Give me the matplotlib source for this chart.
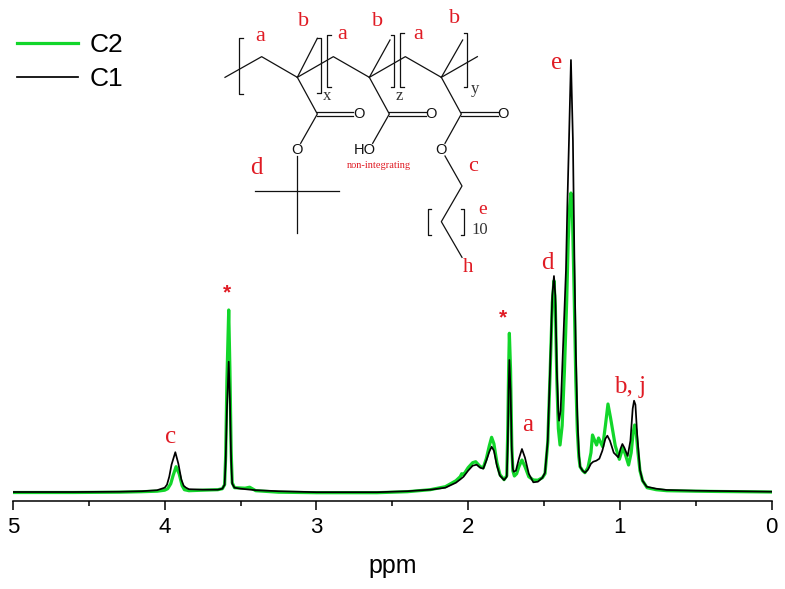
import matplotlib
matplotlib.use("Agg")
import matplotlib.pyplot as plt

SANS = "Liberation Sans"
SERIF = "Liberation Serif"
RED = "#e01b24"

ppm_c1 = [5.0, 4.6, 4.3, 4.15, 4.05, 4.0, 3.985, 3.97, 3.955, 3.93, 3.91, 3.89, 3.875, 3.86, 3.84, 3.75,
          3.65, 3.62, 3.605, 3.598, 3.59, 3.578, 3.57, 3.562, 3.555, 3.54, 3.5, 3.4, 3.25, 3.0, 2.6, 2.4,
          2.25, 2.15, 2.08, 2.05, 2.03, 2.0, 1.97, 1.944, 1.92, 1.9, 1.88, 1.86, 1.845, 1.83, 1.81, 1.79,
          1.763, 1.745, 1.738, 1.733, 1.728, 1.72, 1.712, 1.705, 1.7, 1.685, 1.665, 1.645, 1.625, 1.6,
          1.57, 1.54, 1.51, 1.493, 1.475, 1.46, 1.445, 1.434, 1.425, 1.415, 1.405, 1.4, 1.39, 1.375, 1.355,
          1.345, 1.335, 1.322, 1.309, 1.3, 1.29, 1.28, 1.27, 1.262, 1.245, 1.23, 1.21, 1.19, 1.175, 1.155,
          1.135, 1.115, 1.095, 1.082, 1.065, 1.04, 1.01, 0.995, 0.983, 0.97, 0.948, 0.93, 0.915, 0.906,
          0.897, 0.885, 0.867, 0.85, 0.823, 0.76, 0.69, 0.5, 0.34, 0.0]
int_c1 = [8.7, 8.7, 9, 9.5, 10.5, 13, 16, 24, 36, 48.5, 37, 21, 15, 13, 11.5, 11,
          11, 12, 16, 40, 90, 139, 100, 40, 17, 13, 12, 10.5, 9.5, 8.5, 8.5, 9.5,
          11, 13, 18, 21.5, 24, 30, 35, 36, 33, 32, 40, 49, 54, 50, 35, 25,
          20.7, 24, 60, 110, 140.7, 110, 50, 32, 29, 30, 42, 51.7, 43, 27,
          18.4, 19, 23, 28, 60, 130, 205, 224.7, 205, 130, 88, 80, 90, 150, 230,
          300, 360, 440.7, 360, 250, 150, 85, 48, 34, 30, 28, 31, 37, 39, 40,
          42, 50, 62, 65, 60, 48, 43.4, 52, 56.7, 53, 44.7, 60, 92, 100,
          96, 65, 30.7, 20, 14, 12, 10.7, 10, 9.7, 9]

ppm_c2 = [5.0, 4.6, 4.3, 4.15, 4.05, 4.0, 3.98, 3.96, 3.945, 3.925, 3.905, 3.885, 3.87, 3.84, 3.75,
          3.65, 3.62, 3.605, 3.598, 3.59, 3.578, 3.57, 3.562, 3.555, 3.54, 3.47, 3.44, 3.4, 3.25, 3.0, 2.6, 2.4,
          2.25, 2.15, 2.08, 2.052, 2.042, 2.03, 2.0, 1.97, 1.95, 1.92, 1.9, 1.88, 1.86, 1.845, 1.83, 1.81, 1.79,
          1.763, 1.745, 1.738, 1.733, 1.728, 1.72, 1.712, 1.705, 1.695, 1.68, 1.665, 1.645, 1.625, 1.6,
          1.57, 1.54, 1.51, 1.493, 1.475, 1.46, 1.445, 1.434, 1.425, 1.415, 1.405, 1.394, 1.38, 1.365, 1.35,
          1.34, 1.33, 1.322, 1.312, 1.3, 1.29, 1.28, 1.27, 1.262, 1.245, 1.23, 1.21, 1.19, 1.18, 1.165, 1.153,
          1.14, 1.113, 1.095, 1.078, 1.06, 1.03, 1.003, 0.99, 0.98, 0.965, 0.942, 0.925, 0.912, 0.902,
          0.893, 0.88, 0.867, 0.85, 0.82, 0.76, 0.69, 0.5, 0.34, 0.0]
int_c2 = [8.2, 8.2, 8.5, 9, 9.5, 10.5, 12, 17, 25, 34, 27, 15, 11, 10, 10.5,
          11, 12, 16, 45, 120, 190.7, 130, 50, 18, 13, 12.5, 13.5, 10, 8.5, 8, 8, 9,
          11, 14, 20, 24, 27, 26, 33, 38, 39, 34, 33, 42, 55, 63.4, 57, 38, 26,
          21, 25, 75, 130, 167.4, 130, 55, 30, 24.7, 27, 34, 40.7, 34, 24,
          20.7, 20.5, 23, 27, 58, 125, 198, 220, 195, 120, 72, 55.7, 75, 130, 200,
          260, 295, 307.7, 285, 200, 120, 70, 44, 34, 30, 28, 33, 48, 65.7, 60, 55.7,
          62.7, 54, 75, 96.7, 82, 55, 41.4, 48, 53, 47, 35.7, 48, 68, 75.7,
          70, 48, 30, 20, 13, 11, 10, 9.5, 9.2, 8.7]

x_ticks = [5, 4, 3, 2, 1, 0]
x_minor_ticks = [4.5, 3.5, 2.5, 1.5, 0.5]

# chemical structure, positions in 3x pixels of the picture
chain = [(675, 232), (785, 170), (892, 232), (1000, 170), (1108, 232), (1216, 170), (1324, 232), (1432, 170)]
bonds = [
    [(892, 232), (952, 115)], [(1108, 232), (1170, 120)], [(1324, 232), (1388, 120)],
    [(892, 232), (952, 342), (902, 430)], [(1108, 232), (1168, 342), (1118, 430)],
    [(1324, 232), (1384, 342), (1335, 430)],
    [(952, 337), (1060, 337)], [(952, 347), (1060, 347)],
    [(1168, 337), (1278, 337)], [(1168, 347), (1278, 347)],
    [(1384, 337), (1494, 337)], [(1384, 347), (1494, 347)],
    [(890, 468), (890, 698)], [(765, 573), (1018, 573)],
    [(1335, 468), (1386, 558), (1324, 665), (1386, 772)],
]
brackets = [
    [(730, 115), (718, 115), (718, 283), (730, 283)],
    [(950, 113), (963, 113), (963, 280), (950, 280)],
    [(992, 105), (980, 105), (980, 262), (992, 262)],
    [(1172, 105), (1183, 105), (1183, 262), (1172, 262)],
    [(1212, 98), (1200, 98), (1200, 262), (1212, 262)],
    [(1392, 98), (1402, 98), (1402, 262), (1392, 262)],
    [(1294, 628), (1284, 628), (1284, 705), (1294, 705)],
    [(1382, 628), (1391, 628), (1391, 705), (1382, 705)],
]
atoms = [("O", 1078, 342), ("O", 1294, 342), ("O", 1510, 342), ("O", 890, 451), ("HO", 1093, 451), ("O", 1323, 451)]
black_serif = [("x", 981, 288, 12), ("z", 1197, 288, 12), ("y", 1425, 268, 12), ("10", 1440, 690, 12)]
red_structure = [("a", 780, 110, 16), ("b", 910, 65, 16), ("a", 1027, 103, 16), ("b", 1132, 65, 16),
                 ("a", 1254, 103, 16), ("b", 1365, 55, 16), ("d", 770, 503, 18), ("c", 1420, 500, 16),
                 ("e", 1449, 628, 14), ("h", 1403, 803, 15), ("non-integrating", 1136, 498, 7.5)]
# peak labels in pixels of the picture
peak_labels = [("c", 171, 437, 18), ("a", 528, 425, 18), ("d", 547, 263, 18), ("e", 557, 63, 18),
               ("b, j", 630, 387, 18)]
star_labels = [("*", 227, 293), ("*", 503, 318)]

fig = plt.figure(figsize=(7.85, 5.89), dpi=100)
W, H = 785, 589
ax = fig.add_axes([13 / W, 1 - 500.7 / H, (771.5 - 13) / W, 500.7 / H])
ax.patch.set_alpha(0)

ax.plot(ppm_c2, int_c2, color="#12d62a", lw=2.3, label="C2", solid_joinstyle="round")
ax.plot(ppm_c1, int_c1, color="black", lw=1.25, label="C1", solid_joinstyle="round")

ax.set_xlim(5, 0)
ax.set_ylim(0, 500.7)
ax.set_xticks(x_ticks)
ax.set_xticks(x_minor_ticks, minor=True)
ax.set_yticks([])
ax.tick_params(axis="x", which="major", length=6.5, width=1.1, labelsize=16, pad=5)
ax.tick_params(axis="x", which="minor", length=3.5, width=1.1)
for label in ax.get_xticklabels():
    label.set_fontfamily(SANS)
for side in ["top", "left", "right"]:
    ax.spines[side].set_visible(False)
ax.spines["bottom"].set_linewidth(1.1)
ax.set_xlabel("ppm", fontsize=18, family=SANS, labelpad=12)

handles, labels = ax.get_legend_handles_labels()
ax.legend(handles, labels, loc="upper left", bbox_to_anchor=(17 / W, 1 - 33 / H), bbox_transform=fig.transFigure,
          frameon=False, prop={"family": SANS, "size": 19}, handlelength=2.3, handletextpad=0.45,
          labelspacing=0.38, borderaxespad=0, borderpad=0)

struct = fig.add_axes([0, 0, 1, 1])
struct.set_xlim(0, W * 3)
struct.set_ylim(H * 3, 0)
struct.axis("off")
struct.patch.set_alpha(0)

for line in [chain] + bonds + brackets:
    xs, ys = zip(*line)
    struct.plot(xs, ys, color="#111111", lw=0.9)
for name, x, y in atoms:
    struct.text(x, y, name, family=SANS, fontsize=10.5, color="#111111", ha="center", va="center")
for name, x, y, size in black_serif:
    struct.text(x, y, name, family=SERIF, fontsize=size, color="#333333", ha="center", va="center")
for name, x, y, size in red_structure:
    struct.text(x, y, name, family=SERIF, fontsize=size, color=RED, ha="center", va="center")
for name, x, y, size in peak_labels:
    struct.text(x * 3, y * 3, name, family=SERIF, fontsize=size, color=RED, ha="center", va="center")
for name, x, y in star_labels:
    struct.text(x * 3, y * 3, name, family=SANS, fontsize=15, fontweight="bold", color=RED, ha="center", va="center")

fig.savefig("out.png", dpi=100)
